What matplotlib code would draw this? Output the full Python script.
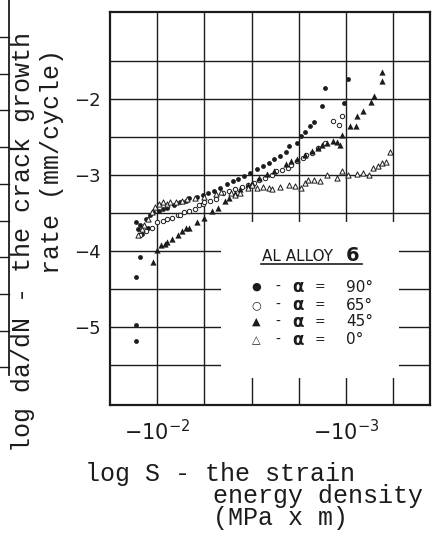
import numpy as np
import matplotlib.pyplot as plt
from matplotlib.patches import Rectangle
from matplotlib.lines import Line2D

# log S axis (decades, -2 -> -10^-2, -3 -> -10^-3), log da/dN values
x_90 = [-1.89, -1.90, -1.91, -1.92, -1.94, -1.95, -1.96, -1.98, -2.01, -2.03,
        -2.05, -2.09, -2.12, -2.15, -2.17, -2.21, -2.24, -2.27, -2.30, -2.33,
        -2.37, -2.40, -2.43, -2.46, -2.49, -2.53, -2.56, -2.59, -2.62, -2.65,
        -2.68, -2.70, -2.74, -2.76, -2.78, -2.81, -2.83, -2.87, -2.89, -2.99,
        -3.01, -1.91, -1.89, -1.89, -1.89]
y_90 = [-3.62, -3.71, -3.66, -3.77, -3.58, -3.69, -3.53, -3.49, -3.47, -3.44,
        -3.43, -3.39, -3.36, -3.34, -3.30, -3.29, -3.26, -3.23, -3.21, -3.17,
        -3.12, -3.08, -3.05, -3.01, -2.97, -2.92, -2.88, -2.84, -2.79, -2.75,
        -2.70, -2.62, -2.58, -2.49, -2.43, -2.36, -2.30, -2.10, -1.86, -2.05,
        -1.74, -4.08, -4.34, -4.97, -5.18]

x_65 = [-1.91, -1.94, -1.97, -2.00, -2.03, -2.05, -2.08, -2.11, -2.12, -2.14,
        -2.17, -2.20, -2.22, -2.24, -2.25, -2.28, -2.31, -2.35, -2.38, -2.41,
        -2.45, -2.48, -2.51, -2.54, -2.57, -2.61, -2.63, -2.66, -2.69, -2.71,
        -2.74, -2.77, -2.79, -2.82, -2.85, -2.89, -2.93, -2.96, -2.98]
y_65 = [-3.79, -3.74, -3.69, -3.62, -3.60, -3.58, -3.56, -3.52, -3.53, -3.49,
        -3.47, -3.45, -3.40, -3.38, -3.35, -3.34, -3.32, -3.23, -3.21, -3.19,
        -3.16, -3.13, -3.10, -3.06, -3.04, -3.00, -2.95, -2.94, -2.91, -2.87,
        -2.82, -2.78, -2.74, -2.71, -2.65, -2.58, -2.29, -2.35, -2.22]

x_45 = [-1.98, -2.00, -2.02, -2.04, -2.05, -2.08, -2.11, -2.13, -2.15, -2.17,
        -2.21, -2.25, -2.29, -2.32, -2.36, -2.38, -2.41, -2.44, -2.48, -2.50,
        -2.54, -2.58, -2.62, -2.68, -2.71, -2.74, -2.78, -2.82, -2.85, -2.87,
        -2.90, -2.93, -2.95, -2.97, -2.98, -3.02, -3.05, -3.06, -3.09, -3.13,
        -3.15, -3.19, -3.19]
y_45 = [-4.14, -3.99, -3.92, -3.91, -3.88, -3.84, -3.79, -3.73, -3.69, -3.69,
        -3.62, -3.56, -3.47, -3.43, -3.34, -3.30, -3.23, -3.19, -3.13, -3.10,
        -3.04, -2.99, -2.95, -2.86, -2.82, -2.79, -2.74, -2.69, -2.65, -2.61,
        -2.58, -2.56, -2.57, -2.60, -2.48, -2.36, -2.36, -2.22, -2.16, -2.04,
        -1.96, -1.77, -1.65]

x_0 = [-1.90, -1.92, -1.93, -1.95, -1.97, -1.99, -2.01, -2.03, -2.05, -2.07,
       -2.10, -2.13, -2.16, -2.20, -2.25, -2.31, -2.34, -2.39, -2.41, -2.44,
       -2.48, -2.50, -2.53, -2.56, -2.59, -2.61, -2.65, -2.70, -2.73, -2.76,
       -2.78, -2.80, -2.83, -2.86, -2.90, -2.95, -2.98, -3.01, -3.06, -3.09,
       -3.12, -3.14, -3.17, -3.19, -3.21, -3.23]
y_0 = [-3.79, -3.71, -3.66, -3.58, -3.49, -3.42, -3.38, -3.36, -3.38, -3.35,
       -3.36, -3.34, -3.32, -3.30, -3.29, -3.25, -3.22, -3.23, -3.26, -3.23,
       -3.17, -3.13, -3.17, -3.16, -3.17, -3.18, -3.16, -3.13, -3.14, -3.17,
       -3.10, -3.06, -3.06, -3.08, -3.00, -3.04, -2.95, -3.00, -2.99, -2.97,
       -3.00, -2.91, -2.88, -2.84, -2.83, -2.70]

x_ticks = [-2, -3]
x_ticklabels = [r'$-10^{-2}$', r'$-10^{-3}$']
y_ticks = [-2, -3, -4, -5]
y_ticklabels = ['−2', '−3', '−4', '−5']

legend_angles = ['90°', '65°', '45°', '0°']
legend_symbols = ['●', '○', '▲', '△']

ink = '#1c1c1c'
mono = 'Liberation Mono'

fig = plt.figure(figsize=(4.34, 5.36), dpi=100)
ax = fig.add_axes([110/434, 1-405/536, 320/434, 393/536])
ax.set_xlim(-1.75, -3.444)
ax.set_ylim(-6.02, -0.86)

# hand drawn grid, blanked out behind the legend
for yv in np.arange(-5.5, -1.0, 0.5):
  ax.axhline(yv, color=ink, lw=1.0, zorder=1)
for xv in np.arange(-2.0, -3.3, -0.25):
  ax.axvline(xv, color=ink, lw=1.0, zorder=1)
ax.add_patch(Rectangle((-2.34, -5.66), -0.94, 2.04, facecolor='white',
                       edgecolor='none', zorder=1.5))

ax.scatter(x_90, y_90, s=12, marker='o', color=ink, lw=0, zorder=3)
ax.scatter(x_65, y_65, s=10, marker='o', facecolors='white', edgecolors=ink, lw=0.7, zorder=3)
ax.scatter(x_45, y_45, s=20, marker='^', color=ink, lw=0, zorder=3)
ax.scatter(x_0, y_0, s=14, marker='^', facecolors='white', edgecolors=ink, lw=0.7, zorder=3)

for sp in ax.spines.values():
  sp.set_linewidth(1.6)
  sp.set_color(ink)
  sp.set_zorder(4)

ax.set_xticks(x_ticks)
ax.set_xticklabels(x_ticklabels, fontsize=15, color=ink)
ax.set_yticks(y_ticks)
ax.set_yticklabels(y_ticklabels, fontsize=13, color=ink)
ax.tick_params(axis='x', length=0, pad=10)
ax.tick_params(axis='y', length=0, pad=7)

# axis titles, typewriter style
fig.text(85/434, 1-474/536, 'log S - the strain', family=mono, fontsize=18,
         color=ink, ha='left', va='center')
fig.text(213/434, 1-496/536, 'energy density', family=mono, fontsize=18,
         color=ink, ha='left', va='center')
fig.text(213/434, 1-518/536, '(MPa x m)', family=mono, fontsize=18,
         color=ink, ha='left', va='center')
fig.text(23/434, 1-242/536, 'log da/dN - the crack growth', family=mono, fontsize=18,
         color=ink, rotation=90, ha='center', va='center')
fig.text(52/434, 1-161/536, 'rate (mm/cycle)', family=mono, fontsize=18,
         color=ink, rotation=90, ha='center', va='center')

# legend
fig.text(262/434, 1-261/536, 'AL ALLOY', fontsize=11, color=ink, ha='left', va='baseline')
fig.text(346/434, 1-261/536, '6', fontsize=14, fontweight='bold', color=ink, ha='left', va='baseline')
fig.add_artist(Line2D([261/434, 362/434], [1-264/536, 1-264/536], color=ink, lw=1.2))
row_y = [287, 305, 322, 340]
for sym, ang, ry in zip(legend_symbols, legend_angles, row_y):
  yy = 1 - ry/536
  fig.text(256/434, yy, sym, fontsize=8, color=ink, ha='center', va='center')
  fig.text(278/434, yy, '-', fontsize=10, color=ink, ha='center', va='center')
  fig.text(298/434, yy, 'α', fontsize=12, fontweight='bold', color=ink, ha='center', va='center')
  fig.text(320/434, yy, '=', fontsize=9, color=ink, ha='center', va='center')
  fig.text(346/434, yy, ang, fontsize=11, color=ink, ha='left', va='center')

# border of the neighbouring figure at the left edge of the scan
fig.add_artist(Line2D([9/434, 9/434], [1.0, 1-375/536], color=ink, lw=1.3))
for ty in np.arange(37, 372, 36.7):
  fig.add_artist(Line2D([0, 9/434], [1-ty/536, 1-ty/536], color=ink, lw=1.0))

fig.savefig('out.png', dpi=100, facecolor='white')
